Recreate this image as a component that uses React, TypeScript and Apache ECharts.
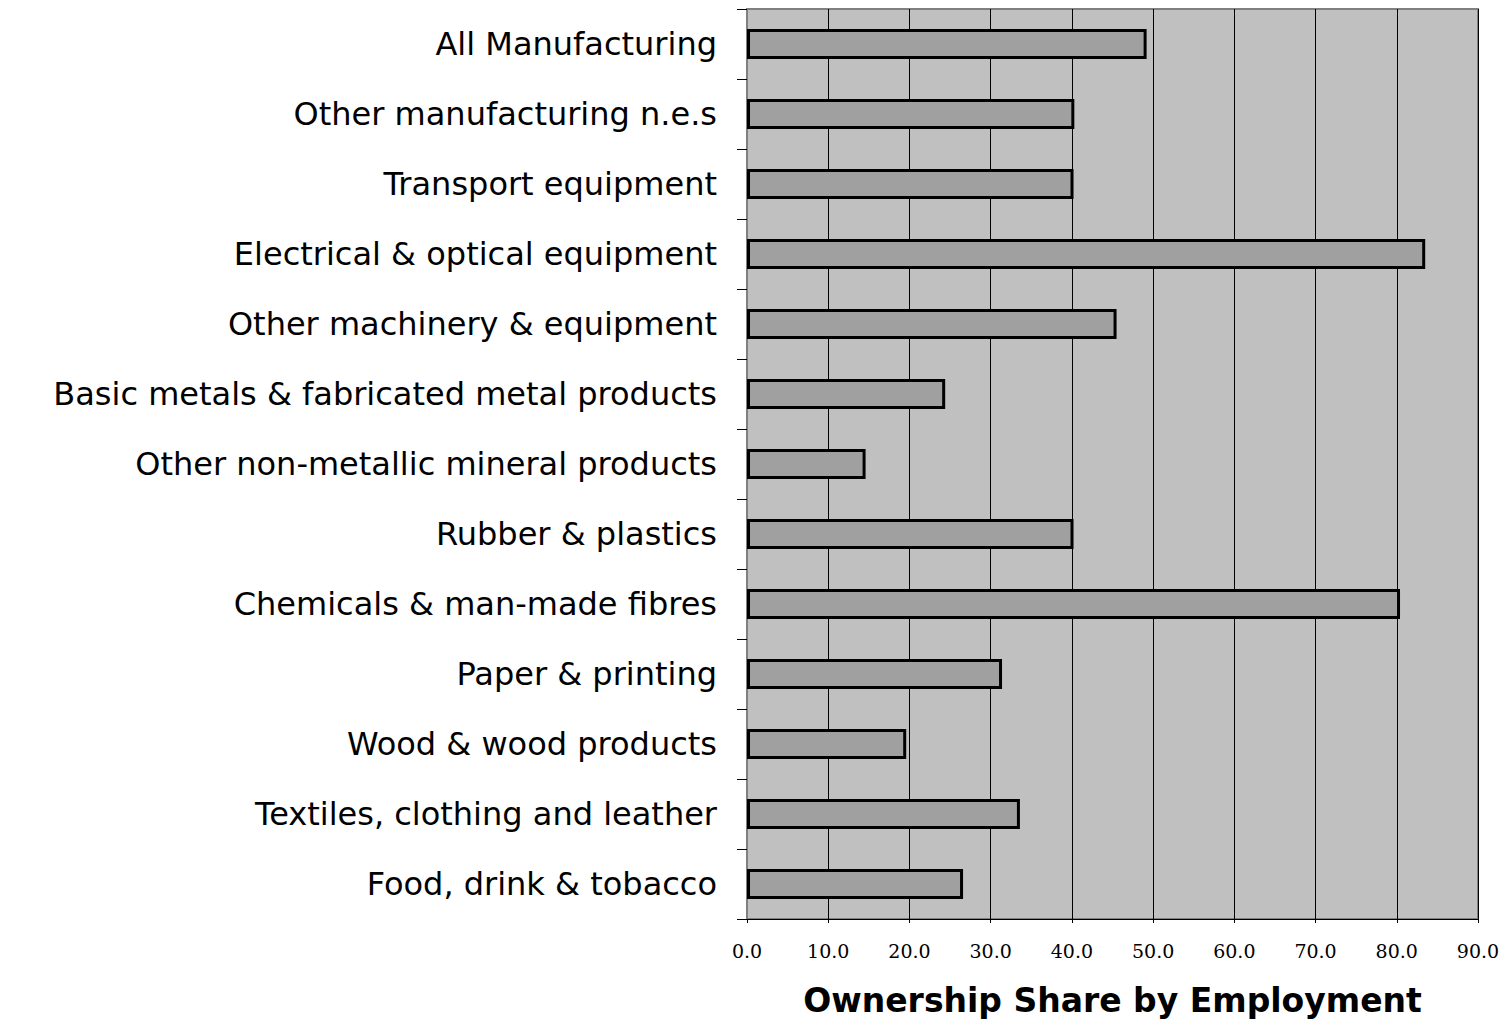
import React, { useEffect, useRef } from "react";
import * as echarts from "echarts";

const categories = [
  "Food, drink & tobacco",
  "Textiles, clothing and leather",
  "Wood & wood products",
  "Paper & printing",
  "Chemicals & man-made fibres",
  "Rubber & plastics",
  "Other non-metallic mineral products",
  "Basic metals & fabricated metal products",
  "Other machinery & equipment",
  "Electrical & optical equipment",
  "Transport equipment",
  "Other manufacturing n.e.s",
  "All Manufacturing",
];

const ownershipShare = [26.6, 33.6, 19.6, 31.4, 80.4, 40.2, 14.6, 24.4, 45.5, 83.5, 40.2, 40.3, 49.2];

const xAxisTitle = "Ownership Share by Employment";

export default function App() {
  const ref = useRef<HTMLDivElement>(null);
  useEffect(() => {
    const chart = echarts.init(ref.current!, null, { renderer: "svg" });
    chart.setOption({
      animation: false,
      backgroundColor: "#ffffff",
      grid: {
        left: 747,
        top: 9,
        right: 30,
        bottom: 103,
        show: true,
        backgroundColor: "#c0c0c0",
        borderColor: "#808080",
        borderWidth: 2,
      },
      xAxis: {
        type: "value",
        min: 0,
        max: 90,
        interval: 10,
        name: xAxisTitle,
        nameLocation: "middle",
        nameGap: 65,
        nameTextStyle: {
          fontFamily: "DejaVu Sans",
          fontWeight: "bold",
          fontSize: 33,
          color: "#000",
        },
        axisLine: { show: true, lineStyle: { color: "#000", width: 1 } },
        axisTick: { show: true, length: 4, lineStyle: { color: "#000" } },
        axisLabel: {
          fontFamily: "DejaVu Serif",
          fontSize: 19,
          color: "#000",
          margin: 22,
          formatter: (v: number) => v.toFixed(1),
        },
        splitLine: { show: true, lineStyle: { color: "#000", width: 1 } },
      },
      yAxis: {
        type: "category",
        data: categories,
        axisLine: { show: true, lineStyle: { color: "#808080", width: 2 } },
        axisTick: { show: true, length: 10, inside: false, lineStyle: { color: "#000" } },
        axisLabel: {
          fontFamily: "DejaVu Sans",
          fontSize: 32,
          color: "#000",
          margin: 30,
        },
        splitLine: { show: false },
      },
      series: [
        {
          type: "bar",
          data: ownershipShare,
          barWidth: 30,
          itemStyle: {
            color: "#a0a0a0",
            borderColor: "#000",
            borderWidth: 3,
          },
        },
      ],
    });
    return () => chart.dispose();
  }, []);
  return (
    <div
      ref={ref}
      style={{ position: "absolute", left: 0, top: 0, width: 1508, height: 1022 }}
    />
  );
}
